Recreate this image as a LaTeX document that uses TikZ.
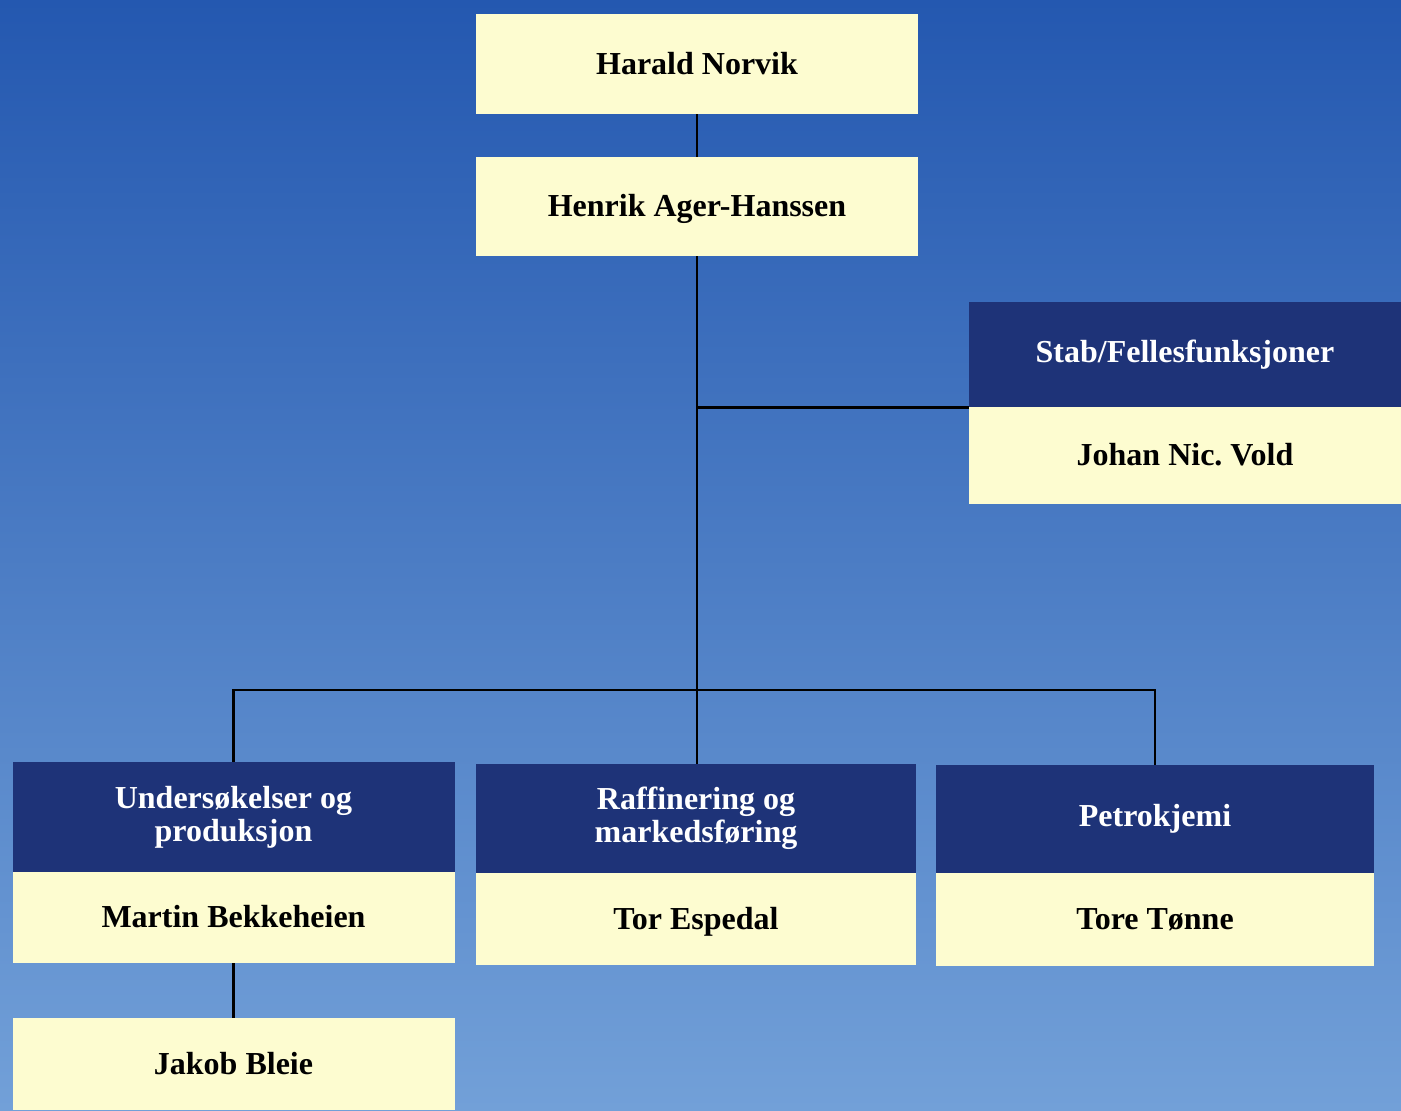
\documentclass[tikz,border=0pt]{standalone}
\usepackage{fontspec}
\setmainfont{Liberation Serif}
\usepackage[rgb]{xcolor}
\usepackage{tikz}
\definecolor{bg_top}{HTML}{2458B0}
\definecolor{bg_mid}{HTML}{3A6FC2}
\definecolor{bg_bot}{HTML}{72A0D8}
\definecolor{hd_navy}{HTML}{1E3378}
\definecolor{nm_cream}{HTML}{FDFCD0}

\tikzset{
    head/.style={rectangle, fill=hd_navy, text=white, inner sep=0pt,
        minimum width=221pt, align=center, font=\bfseries\fontsize{16}{16.5}\selectfont},
    namebox/.style={rectangle, fill=nm_cream, text=black, inner sep=0pt,
        text height=12.5pt, text depth=2.5pt,
        minimum width=221pt, font=\bfseries\fontsize{16}{16.5}\selectfont},
    wire/.style={black, line width=1.1pt}
}

\begin{document}
\begin{tikzpicture}[x=0.5pt, y=-0.5pt]
            \useasboundingbox (0,0) rectangle (1401,1110);
            \shade [top color=bg_top, middle color=bg_mid, bottom color=bg_bot]
                (0,0) rectangle (1401,1110);

            % top of the tree
            \node[namebox, minimum height=50pt] (hn) at (697, 64) {Harald Norvik};
            \node[namebox, minimum height=49.5pt] (hah) at (697, 206.5) {Henrik Ager-Hanssen};

            % staff
            \node[head, minimum width=216pt, minimum height=52.5pt] (stab) at (1185, 354.5) {Stab/Fellesfunksjoner};
            \node[namebox, minimum width=216pt, minimum height=48.5pt] (jnv) at (1185, 455.5) {Johan Nic.\ Vold};

            % divisions
            \node[head, minimum height=55pt] (und) at (233.5, 817) {Undersøkelser og\\produksjon};
            \node[namebox, minimum height=45.5pt] (mb) at (233.5, 917.5) {Martin Bekkeheien};

            \node[head, minimum width=220pt, minimum height=54.5pt] (raff) at (696, 818.5) {Raffinering og\\markedsføring};
            \node[namebox, minimum width=220pt, minimum height=46pt] (te) at (696, 919) {Tor Espedal};

            \node[head, minimum width=219pt, minimum height=54pt] (petro) at (1155, 819) {Petrokjemi};
            \node[namebox, minimum width=219pt, minimum height=46.5pt] (tt) at (1155, 919.5) {Tore Tønne};

            \node[namebox, minimum height=46pt] (jb) at (233.5, 1064) {Jakob Bleie};

            \coordinate (bus) at (697, 690);

            \draw[wire] (hn) -- (hah);
            \draw[wire] (hah.south) -- (hah.south |- raff.north);
            \draw[wire] (hah.south |- stab.south west) -- (stab.south west);
            \draw[wire] (und.north) |- (bus) -| (petro.north);
            \draw[wire] (mb) -- (jb);

        \end{tikzpicture}
\end{document}
